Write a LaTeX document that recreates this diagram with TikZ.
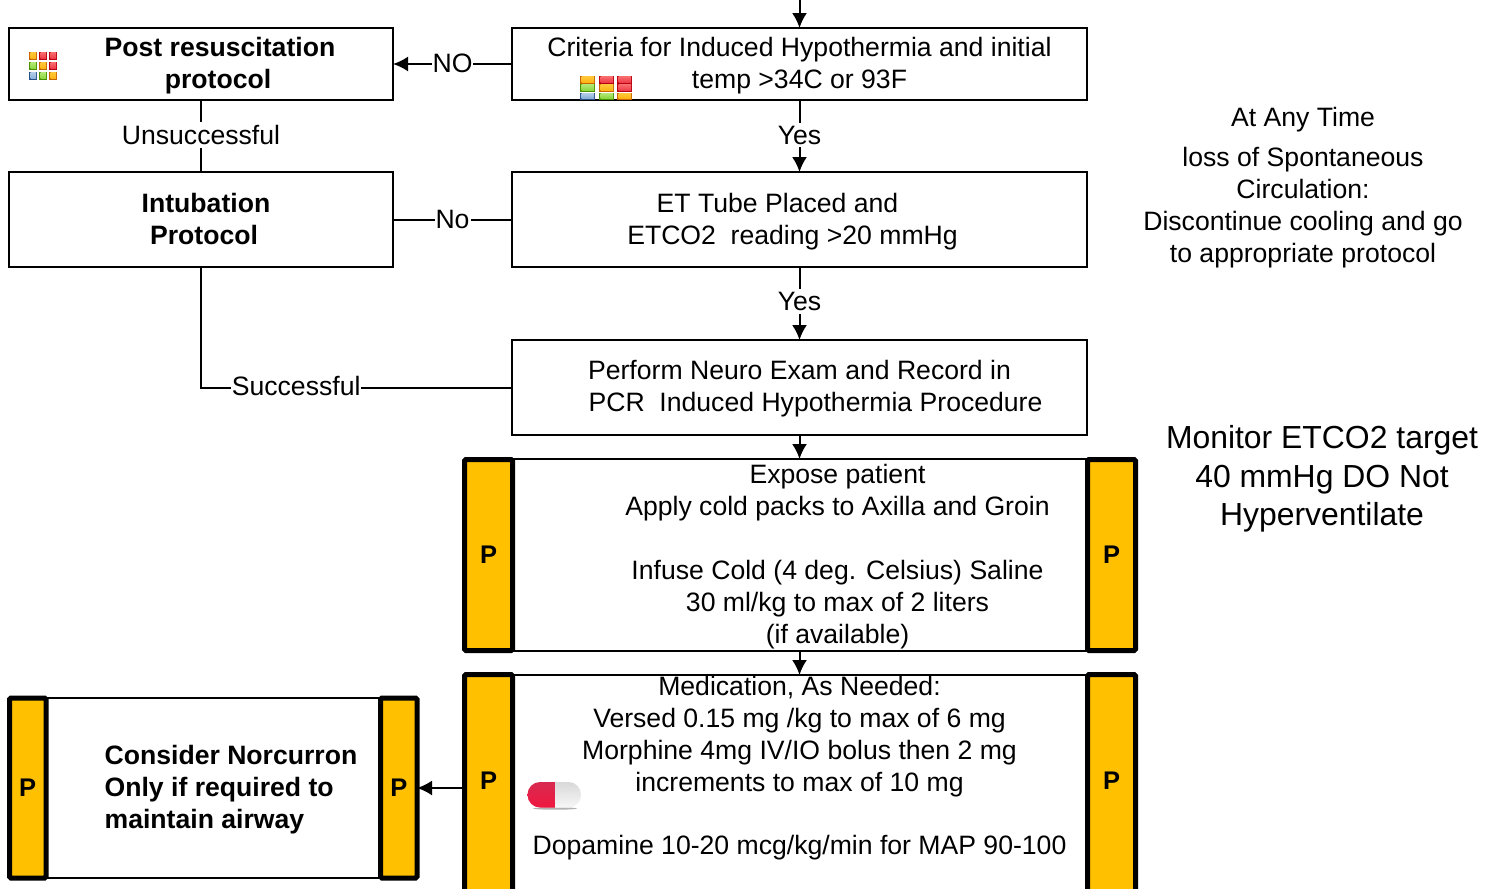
\documentclass[tikz,border=0pt]{standalone}
\usepackage{fontspec}
\setmainfont{Liberation Sans}
\usetikzlibrary{arrows.meta}
\definecolor{barfill}{HTML}{FFC000}
\definecolor{oD}{HTML}{C86400}\definecolor{oL}{HTML}{FFC83C}\definecolor{oM}{HTML}{FFB414}
\definecolor{rD}{HTML}{B80010}\definecolor{rL}{HTML}{F87070}\definecolor{rM}{HTML}{EE3A48}
\definecolor{gD}{HTML}{489000}\definecolor{gL}{HTML}{B4E878}\definecolor{gM}{HTML}{8CD840}
\definecolor{bD}{HTML}{2A5088}\definecolor{bL}{HTML}{B4CEE8}\definecolor{bM}{HTML}{8CB0D8}
\definecolor{pillTop}{HTML}{D82A50}\definecolor{pillMid}{HTML}{FF0A3C}\definecolor{pillBot}{HTML}{F01840}
\newcommand{\gridcell}[5]{%
  \fill[#5D] (#1,#2) rectangle ++(#3,#4);
  \shade[top color=#5L,bottom color=#5M] (#1+1.5,#2) rectangle (#1+#3-1,#2+#4-1.5);
}
\newcommand{\tall}[1]{\rule{0pt}{#1}}
\tikzset{
  txt/.style={font=\fontsize{26.6}{32}\selectfont,align=center,inner sep=0pt,outer sep=0pt},
  boxnode/.style={txt,draw=black,line width=2pt,fill=white},
  boldbox/.style={boxnode,font=\fontsize{26.6}{32}\selectfont\bfseries},
  pbar/.style={draw=black,line width=5pt,fill=barfill,rounded corners=1.5pt,inner sep=0pt,outer sep=0pt,
     font=\fontsize{25.5}{32}\selectfont\bfseries},
  conn/.style={draw=black,line width=2pt},
  arr/.style={conn,-{Latex[length=15pt,width=15pt]}},
  lbl/.style={txt,fill=white,inner xsep=1pt,inner ysep=3pt},
  note/.style={txt},
  bignote/.style={txt,font=\fontsize{31.9}{38.5}\selectfont},
}
\begin{document}
\begin{tikzpicture}[x=1pt,y=-1pt]
\useasboundingbox (0,0) rectangle (1497,889);
\clip (0,0) rectangle (1497,889);
\fill[white] (0,0) rectangle (1497,889);

% boxes
\coordinate (topin) at (799.5,0);
\node[boldbox,minimum width=384pt,minimum height=72pt] (post) at (201,64)
  {\tall{22.5pt}\hspace*{38pt}Post resuscitation\\\hspace*{34pt}protocol};
\node[boxnode,minimum width=575pt,minimum height=72pt] (crit) at (799.5,64)
  {\tall{22.5pt}Criteria for Induced Hypothermia and initial\\temp >34C or 93F};
\node[boldbox,minimum width=384pt,minimum height=95pt] (intub) at (201,219.5)
  {\hspace*{10pt}Intubation\\\hspace*{6pt}Protocol\rule[-2pt]{0pt}{1pt}};
\node[boxnode,minimum width=575pt,minimum height=95pt] (et) at (799.5,219.5)
  {\tall{24pt}ET Tube Placed and\hspace*{44pt}\\ETCO2\ \ reading >20 mmHg\hspace*{14pt}};
\node[boxnode,minimum width=575pt,minimum height=95pt] (neuro) at (799.5,387.5)
  {\tall{21.5pt}Perform Neuro Exam and Record in\\\hspace*{32pt}PCR\ \ Induced Hypothermia Procedure};
\node[boxnode,minimum width=575pt,minimum height=192pt] (expose) at (799.5,555)
  {\tall{22.5pt}\hspace*{76pt}Expose patient\\\hspace*{76pt}Apply cold packs to Axilla and Groin\\[32pt]\hspace*{76pt}Infuse Cold (4 deg. Celsius) Saline\\\hspace*{76pt}30 ml/kg to max of 2 liters\\\hspace*{76pt}(if available)};
\node[boxnode,minimum width=575pt,minimum height=221pt] (med) at (799.5,785.5)
  {Medication, As Needed:\\Versed 0.15 mg /kg to max of 6 mg\\Morphine 4mg IV/IO bolus then 2 mg\\increments to max of 10 mg\\[31pt]Dopamine 10-20 mcg/kg/min for MAP 90-100\\[8pt]~};
\node[boldbox,minimum width=334pt,minimum height=180pt,align=left] (nor) at (213,788)
  {\tall{22.5pt}\hspace*{36pt}Consider Norcurron\\\hspace*{36pt}Only if required to\\\hspace*{36pt}maintain airway};

% P bars
\node[pbar,minimum width=48pt,minimum height=191pt] (expL) at (488.5,555) {P};
\node[pbar,minimum width=48pt,minimum height=191pt] (expR) at (1111.5,555) {P};
\node[pbar,minimum width=48pt,minimum height=226pt] (medL) at (488.5,787.5) {\raisebox{13pt}{P}};
\node[pbar,minimum width=48pt,minimum height=226pt] (medR) at (1111.5,787.5) {\raisebox{13pt}{P}};
\node[pbar,minimum width=36.5pt,minimum height=180pt] (norL) at (27.75,788) {P};
\node[pbar,minimum width=36.5pt,minimum height=180pt] (norR) at (398.75,788) {P};

% connectors
\draw[arr] (topin) -- (crit.north);
\draw[arr] (crit.west) -- node[lbl,yshift=1pt] {NO} (post.east);
\draw[conn] (post.south) -- node[lbl,yshift=1pt] {Unsuccessful} (intub.north);
\draw[arr] (crit.south) -- node[lbl,yshift=1pt] {Yes} (et.north);
\draw[conn] (et.west) -- node[lbl] {No} (intub.east);
\draw[arr] (et.south) -- node[lbl,yshift=2pt] {Yes} (neuro.north);
\draw[conn] (intub.south) |- node[lbl,pos=0.653,yshift=2pt] {Successful} (neuro.west);
\draw[arr] (neuro.south) -- (expose.north);
\draw[arr] (expose.south) -- (med.north);
\draw[arr] (medL.west |- norR.east) -- (norR.east);

% side notes
\node[note] (anytime) at (1303,187.5)
  {At Any Time\\[7.5pt]loss of Spontaneous\\Circulation:\\Discontinue cooling and go\\to appropriate protocol};
\node[bignote] (monitor) at (1322,479)
  {Monitor ETCO2 target\\40 mmHg DO Not\\Hyperventilate};

% grid icon, post box
\gridcell{29}{52}{8}{8}{o}\gridcell{39}{52}{8}{8}{r}\gridcell{49}{52}{8}{8}{r}
\gridcell{29}{62}{8}{8}{g}\gridcell{39}{62}{8}{8}{o}\gridcell{49}{62}{8}{8}{r}
\gridcell{29}{72}{8}{8}{b}\gridcell{39}{72}{8}{8}{g}\gridcell{49}{72}{8}{8}{o}
% grid icon, criteria box
\gridcell{580}{76}{15}{8}{o}\gridcell{599}{76}{15}{8}{r}\gridcell{617}{76}{15}{8}{r}
\gridcell{580}{84}{15}{8}{g}\gridcell{599}{84}{15}{8}{o}\gridcell{617}{84}{15}{8}{r}
\gridcell{580}{93}{15}{6.5}{b}\gridcell{599}{93}{15}{6.5}{g}\gridcell{617}{93}{15}{6.5}{o}

% pill
\fill[black!30] (555,808.5) ellipse (22pt and 1.2pt);
\begin{scope}
  \clip[rounded corners=12.5pt] (527.5,782) rectangle (581,807.5);
  \shade[top color=pillTop,middle color=pillMid,bottom color=pillBot] (527,782) rectangle (555,808);
  \shade[top color=black!15,bottom color=black!3] (555,782) rectangle (581.5,808);
\end{scope}
\end{tikzpicture}
\end{document}
